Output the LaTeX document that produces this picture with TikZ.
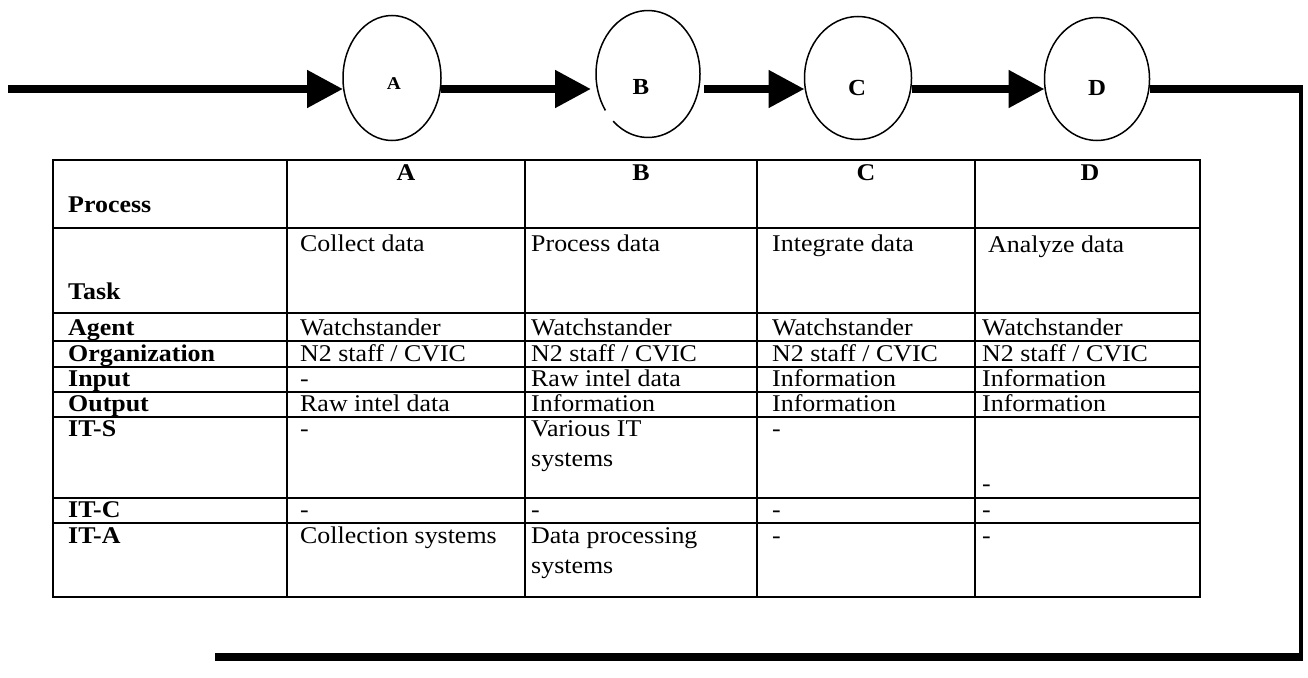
\documentclass[tikz,border=0pt]{standalone}
\usepackage{fontspec}
\setmainfont{Liberation Serif}[FakeStretch=1.08]
\usetikzlibrary{arrows.meta,shapes.geometric}
\begin{document}
\begin{tikzpicture}[x=1pt,y=1pt,
  circ/.style={ellipse, inner sep=0pt, outer sep=0pt, line width=1.5pt},
  flow/.style={line width=8pt, -{Triangle[length=36pt,width=36pt]}},
  fb/.style={line width=8pt},
  fbthin/.style={line width=4pt},
  clab/.style={font=\fontsize{23}{28}\selectfont\bfseries, inner sep=0pt},
  clabsmall/.style={font=\fontsize{18}{22}\selectfont\bfseries, inner sep=0pt},
  cell/.style={anchor=base west, inner sep=0pt, font=\fontsize{24}{30}\selectfont},
  hcell/.style={anchor=base west, inner sep=0pt, font=\fontsize{24}{30}\selectfont\bfseries},
  hmid/.style={anchor=base, inner sep=0pt, font=\fontsize{24}{30}\selectfont\bfseries},
  tgrid/.style={line width=1.5pt, line cap=rect}
]
\useasboundingbox (0,0) rectangle (1308,-677);

% process circles
\node[circ, draw, minimum width=98pt, minimum height=125pt] (A) at (392,-78) {};
\node[circ, minimum width=104pt, minimum height=127pt] (B) at (648,-74) {};
\draw[line width=1.5pt] ([shift={(228:52pt and 63.5pt)}]B.center)
  arc[start angle=228, end angle=575, x radius=52pt, y radius=63.5pt];
\node[circ, draw, minimum width=107pt, minimum height=123pt] (C) at (858,-78) {};
\node[circ, draw, minimum width=105pt, minimum height=123pt] (D) at (1097,-79) {};
\node[clabsmall] (lA) at (394,-84) {A};
\node[clab] (lB) at (641,-87) {B};
\node[clab] (lC) at (857,-88) {C};
\node[clab] (lD) at (1097,-88) {D};

% flow connectors
\coordinate (in) at (8,-89);
\coordinate (r1) at (1301,-89);
\coordinate (r2) at (1301,-657);
\coordinate (fbend) at (215,-657);
\draw[flow] (in) -- (A.west |- in);
\draw[flow, shorten >=5pt] (A.east |- in) -- (B.west |- in);
\draw[flow] (B.east |- in) ++(4pt,0) -- (C.west |- in);
\draw[flow] (C.east |- in) -- (D.west |- in);
\draw[fb] (D.east |- in) -- ([xshift=2pt]r1);
\draw[fbthin] (r1) -- (r2);
\draw[fb] ([xshift=2pt]r2) -- (fbend);

% table grid
\foreach \y in {160,228,313,341,367,392,417,498,523,597}
  \draw[tgrid] (53,-\y) -- (1200,-\y);
\foreach \x in {53,287,525,757,975,1200}
  \draw[tgrid] (\x,-160) -- (\x,-597);

% header row
\node[hcell] (h0) at (68,-212) {Process};
\node[hmid] (h1) at (406,-180) {A};
\node[hmid] (h2) at (641,-180) {B};
\node[hmid] (h3) at (866,-180) {C};
\node[hmid] (h4) at (1090,-180) {D};

% task row
\node[hcell] (t0) at (68,-299) {Task};
\node[cell] (t1) at (300,-251) {Collect data};
\node[cell] (t2) at (531,-251) {Process data};
\node[cell] (t3) at (772,-251) {Integrate data};
\node[cell] (t4) at (988,-252) {Analyze data};

% agent row
\node[hcell] (a0) at (68,-335) {Agent};
\node[cell] (a1) at (300,-335) {Watchstander};
\node[cell] (a2) at (531,-335) {Watchstander};
\node[cell] (a3) at (772,-335) {Watchstander};
\node[cell] (a4) at (982,-335) {Watchstander};

% organization row
\node[hcell] (o0) at (68,-361) {Organization};
\node[cell] (o1) at (300,-361) {N2 staff / CVIC};
\node[cell] (o2) at (531,-361) {N2 staff / CVIC};
\node[cell] (o3) at (772,-361) {N2 staff / CVIC};
\node[cell] (o4) at (982,-361) {N2 staff / CVIC};

% input row
\node[hcell] (i0) at (68,-386) {Input};
\node[cell] (i1) at (300,-386) {-};
\node[cell] (i2) at (531,-386) {Raw intel data};
\node[cell] (i3) at (772,-386) {Information};
\node[cell] (i4) at (982,-386) {Information};

% output row
\node[hcell] (u0) at (68,-411) {Output};
\node[cell] (u1) at (300,-411) {Raw intel data};
\node[cell] (u2) at (531,-411) {Information};
\node[cell] (u3) at (772,-411) {Information};
\node[cell] (u4) at (982,-411) {Information};

% IT-S row
\node[hcell] (s0) at (68,-436) {IT-S};
\node[cell] (s1) at (300,-436) {-};
\node[cell] (s2) at (531,-436) {Various IT};
\node[cell] (s2b) at (531,-466) {systems};
\node[cell] (s3) at (772,-436) {-};
\node[cell] (s4) at (982,-491) {-};

% IT-C row
\node[hcell] (c0) at (68,-517) {IT-C};
\node[cell] (c1) at (300,-517) {-};
\node[cell] (c2) at (531,-517) {-};
\node[cell] (c3) at (772,-517) {-};
\node[cell] (c4) at (982,-517) {-};

% IT-A row
\node[hcell] (x0) at (68,-543) {IT-A};
\node[cell] (x1) at (300,-543) {Collection systems};
\node[cell] (x2) at (531,-543) {Data processing};
\node[cell] (x2b) at (531,-573) {systems};
\node[cell] (x3) at (772,-543) {-};
\node[cell] (x4) at (982,-543) {-};
\end{tikzpicture}
\end{document}
